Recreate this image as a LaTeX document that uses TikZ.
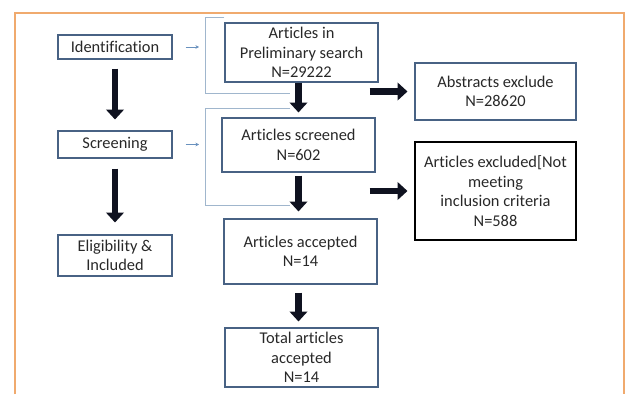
\documentclass[tikz,border=0pt]{standalone}
\usepackage{fontspec}
\setmainfont{Carlito}[Ligatures={NoCommon}]
\usetikzlibrary{arrows.meta}
\definecolor{boxblue}{RGB}{72,98,132}
\definecolor{thinblue}{RGB}{105,145,190}
\definecolor{bracketblue}{RGB}{160,182,205}
\definecolor{arrowdark}{RGB}{15,18,32}
\definecolor{frameorange}{RGB}{240,170,110}
\definecolor{textgray}{RGB}{40,40,40}

\begin{document}
\begin{tikzpicture}[x=0.03cm,y=-0.03cm,
    every node/.style={font=\fontsize{14}{16.6}\selectfont, text=textgray, align=center},
    stagebox/.style={rectangle, draw=boxblue, line width=0.9pt, minimum width=3.42cm, inner sep=2pt},
    studybox/.style={rectangle, draw=boxblue, line width=0.9pt, minimum width=4.59cm, inner sep=2pt},
    exclbox/.style={rectangle, draw=boxblue, line width=0.9pt, minimum width=4.83cm, inner sep=2pt},
    bigarrow/.style={draw=arrowdark, line width=5.6pt, -{Triangle[length=8.5pt,width=15pt]}},
    smallarrow/.style={draw=thinblue, line width=0.5pt, -{Stealth[length=3pt,width=3pt]}},
    bracket/.style={draw=bracketblue, line width=0.6pt}]
    \useasboundingbox (0,0) rectangle (627,394);
    \draw[frameorange, line width=1.2pt] (15,394) -- (15,13) -- (624,13) -- (624,394);
    \draw[frameorange, line width=2.2pt] (15,394) -- (15,13);

    \node[stagebox, minimum height=0.72cm] (ident) at (115,47) {Identification};
    \node[stagebox, minimum height=0.81cm] (screen) at (115,144.5) {Screening};
    \node[stagebox, minimum height=1.23cm] (elig) at (115,255.5) {Eligibility \&\\Included};

    \node[studybox, minimum height=1.77cm] (prelim) at (301.5,52.5) {Articles in\\Preliminary search\\N=29222};
    \node[studybox, minimum height=1.62cm] (screened) at (298.5,145) {Articles screened\\N=602};
    \node[studybox, minimum height=1.95cm] (accepted) at (300.5,251.5) {Articles accepted\\N=14};
    \node[studybox, minimum height=1.77cm] (total) at (301.5,357.5) {Total articles\\accepted\\N=14};

    \node[exclbox, minimum height=1.71cm] (abstracts) at (495.5,91.5) {Abstracts exclude\\N=28620};
    \node[exclbox, draw=black, minimum height=2.94cm] (excluded) at (495.5,191) {Articles excluded[Not\\meeting\\inclusion criteria\\N=588};

    % brackets round the search steps
    \coordinate (b1top) at (205,17);
    \coordinate (b1bot) at (205,93);
    \coordinate (b2top) at (205,108);
    \coordinate (b2bot) at (205,205);
    \draw[bracket] (prelim.north west |- b1top) -- (b1top) -- (b1bot) -- (290,93);
    \draw[bracket] (290,108) -- (b2top) -- (b2bot) -- (290,205);

    \draw[smallarrow] ([xshift=0.39cm]ident.east) -- ([xshift=-0.18cm]b1top |- ident.east);
    \draw[smallarrow] ([xshift=0.39cm]screen.east) -- ([xshift=-0.18cm]b2top |- screen.east);

    \draw[bigarrow, shorten <=0.27cm, shorten >=0.33cm] (ident) -- (screen);
    \draw[bigarrow, shorten <=0.3cm, shorten >=0.36cm] (screen) -- (elig);
    \draw[bigarrow, shorten >=0.15cm] (prelim.south -| screened.north) -- (screened.north);
    \draw[bigarrow, shorten <=0.09cm, shorten >=0.21cm] (screened.south) -- (screened.south |- accepted.north);
    \draw[bigarrow, shorten <=0.24cm, shorten >=0.18cm] (accepted.south -| screened.south) -- (screened.south |- total.north);
    \draw[bigarrow, shorten >=0.21cm] ([xshift=-0.27cm]prelim.east |- abstracts.west) -- (abstracts.west);
    \draw[bigarrow, shorten >=0.21cm] ([xshift=-0.27cm]prelim.east |- excluded.west) -- (excluded.west);
\end{tikzpicture}
\end{document}
